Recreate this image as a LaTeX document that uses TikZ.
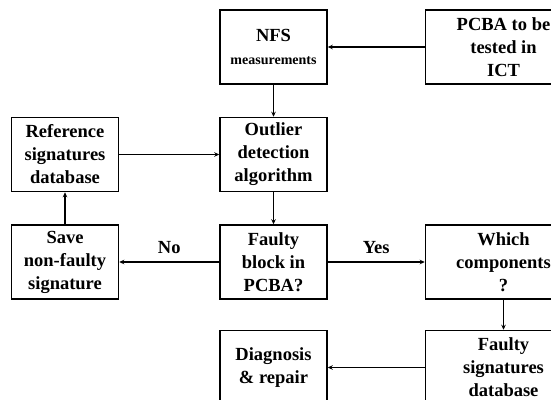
\documentclass[tikz,border=0pt]{standalone}
\usepackage{fontspec}
\setmainfont{Liberation Serif}
\usetikzlibrary{arrows.meta,positioning}

\begin{document}
\begin{tikzpicture}[>={Stealth[length=5pt,width=4.5pt]}, font=\bfseries\fontsize{18.5}{23}\selectfont,
    blk/.style={draw, line width=1.5pt, align=center, minimum width=107pt, minimum height=74pt, inner sep=1pt},
    wideblk/.style={blk, minimum width=156pt},
    lnk/.style={->, line width=1.5pt}]
  \useasboundingbox (0,0) rectangle (551pt,-399pt);
  \clip (0,0) rectangle (551pt,-399pt);
  % middle column
  \node[blk] (nfs) at (273.5pt,-47pt) {NFS\\[0pt]{\fontsize{14}{16}\selectfont measurements}};
  \node[blk, below=32pt of nfs] (outl) {Outlier\\detection\\algorithm};
  \node[blk, below=32pt of outl] (faulty) {Faulty\\block in\\PCBA?};
  % right column
  \node[wideblk, right=97pt of nfs] (pcba) {PCBA to be\\tested in\\ICT};
  \node[wideblk, right=97pt of faulty] (which) {Which\\components\\?};
  \node[wideblk, below=30pt of which] (fsdb) {Faulty\\signatures\\database};
  \node[blk, left=97pt of fsdb] (diag) {Diagnosis\\\& repair};
  % left column
  \node[blk, left=100pt of outl] (refdb) {Reference\\signatures\\database};
  \node[blk, left=100pt of faulty] (save) {Save\\non-faulty\\signature};
  % links
  \draw[lnk] (pcba) -- (nfs);
  \draw[lnk] (nfs) -- (outl);
  \draw[lnk] (refdb) -- (outl);
  \draw[lnk] (outl) -- (faulty);
  \draw[lnk] (faulty) -- node[above=4pt] {No} (save);
  \draw[lnk] (faulty) -- node[above=4pt] {Yes} (which);
  \draw[lnk] (save) -- (refdb);
  \draw[lnk] (which) -- (fsdb);
  \draw[lnk] (fsdb) -- (diag);
\end{tikzpicture}
\end{document}
